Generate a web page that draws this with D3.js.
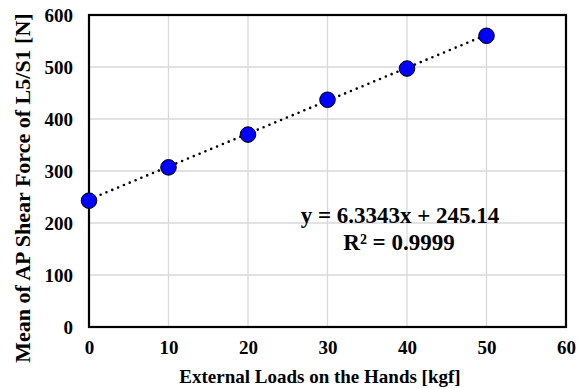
<!DOCTYPE html>
<html>
<head>
<meta charset="utf-8">
<script src="https://cdn.jsdelivr.net/npm/d3@7"></script>
<style>
  body { margin: 0; background: #fff; }
  text { font-family: "Liberation Serif", "Times New Roman", serif; font-weight: bold; fill: #000; }
</style>
</head>
<body>
<div id="chart"></div>
<script>
// data
const loads = [0, 10, 20, 30, 40, 50];
const shear = [243, 307, 370, 437, 497, 560];
const xTicks = [0, 10, 20, 30, 40, 50, 60];
const yTicks = [0, 100, 200, 300, 400, 500, 600];
const slope = 6.3343, intercept = 245.14;

const W = 583, H = 389;
const margin = { top: 15, right: 17, bottom: 62, left: 89 };
const width = W - margin.left - margin.right;
const height = H - margin.top - margin.bottom;

const svg = d3.select("#chart").append("svg")
  .attr("width", W).attr("height", H);
const g = svg.append("g")
  .attr("transform", "translate(" + margin.left + "," + margin.top + ")");

const x = d3.scaleLinear().domain([0, 60]).range([0, width]);
const y = d3.scaleLinear().domain([0, 600]).range([height, 0]);

// grid
g.append("g").selectAll("line").data(xTicks.slice(1, -1)).enter().append("line")
  .attr("x1", d => x(d)).attr("x2", d => x(d))
  .attr("y1", 0).attr("y2", height)
  .attr("stroke", "#d9d9d9").attr("stroke-width", 1.3);
g.append("g").selectAll("line").data(yTicks.slice(1, -1)).enter().append("line")
  .attr("x1", 0).attr("x2", width)
  .attr("y1", d => y(d)).attr("y2", d => y(d))
  .attr("stroke", "#d9d9d9").attr("stroke-width", 1.3);

// axes (labels only)
const xAxis = g.append("g")
  .attr("transform", "translate(0," + height + ")")
  .call(d3.axisBottom(x).tickValues(xTicks).tickSize(0).tickPadding(14));
xAxis.select(".domain").remove();
xAxis.selectAll("text").style("font-size", "19px");

const yAxis = g.append("g")
  .call(d3.axisLeft(y).tickValues(yTicks).tickSize(0).tickPadding(16));
yAxis.select(".domain").remove();
yAxis.selectAll("text").style("font-size", "19px");

// plot border
g.append("rect")
  .attr("x", 0).attr("y", 0).attr("width", width).attr("height", height)
  .attr("fill", "none").attr("stroke", "#000").attr("stroke-width", 2.2);

// trendline
g.append("line")
  .attr("x1", x(0)).attr("y1", y(intercept))
  .attr("x2", x(50)).attr("y2", y(intercept + slope * 50))
  .attr("stroke", "#000").attr("stroke-width", 2.6)
  .attr("stroke-linecap", "round").attr("stroke-dasharray", "0,6.3");

// points
g.append("g").selectAll("circle").data(loads).enter().append("circle")
  .attr("cx", d => x(d)).attr("cy", (d, i) => y(shear[i]))
  .attr("r", 7.8)
  .attr("fill", "#0000ff").attr("stroke", "#000").attr("stroke-width", 1);

// equation
const eq = g.append("text").attr("text-anchor", "middle").style("font-size", "23px");
eq.append("tspan").attr("x", 400 - margin.left).attr("y", 223 - margin.top).text("y = 6.3343x + 245.14");
eq.append("tspan").attr("x", 399 - margin.left).attr("y", 250 - margin.top).text("R² = 0.9999");

// axis titles
svg.append("text")
  .attr("x", 320).attr("y", 383)
  .attr("text-anchor", "middle").style("font-size", "19px")
  .text("External Loads on the Hands [kgf]");
svg.append("text")
  .attr("transform", "translate(30,188) rotate(-90)")
  .attr("text-anchor", "middle").style("font-size", "22px")
  .text("Mean of AP Shear Force of L5/S1 [N]");
</script>
</body>
</html>
